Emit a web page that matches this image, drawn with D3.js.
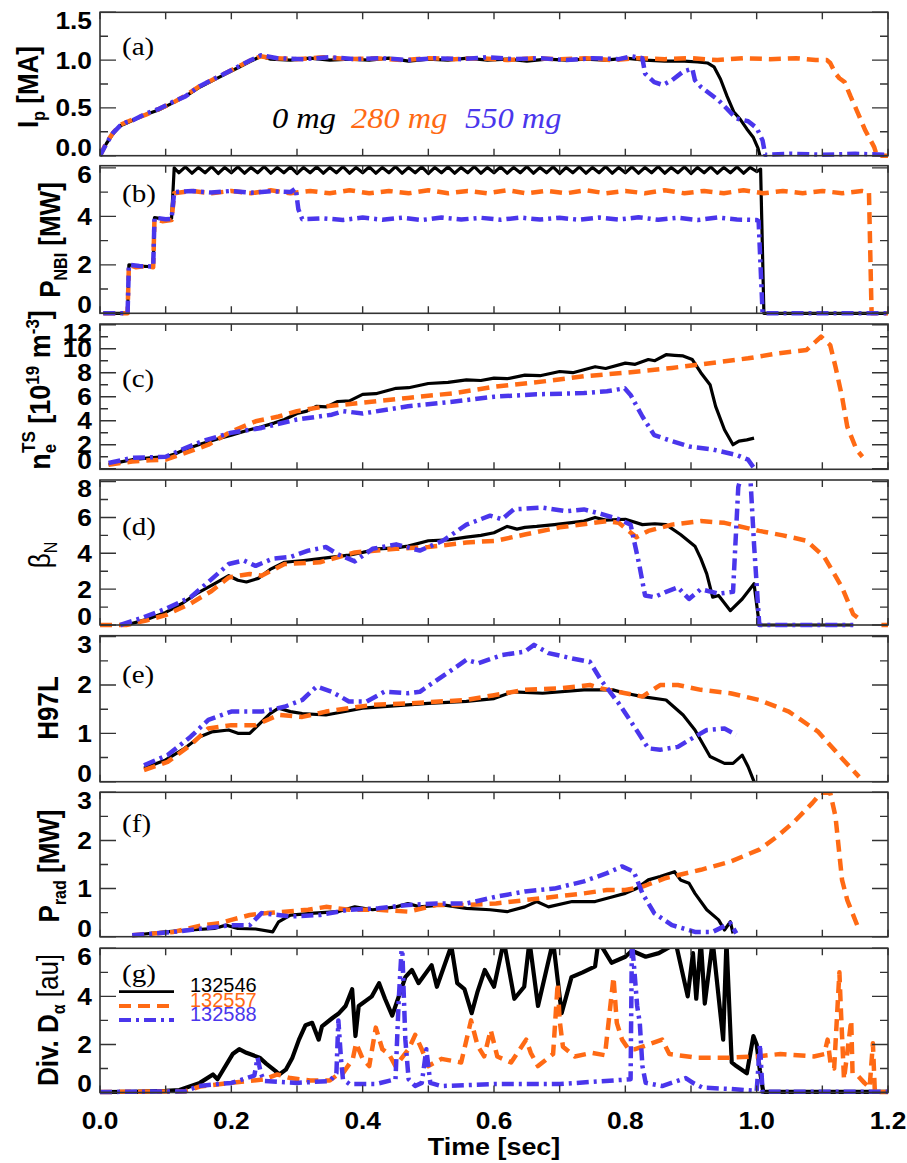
<!DOCTYPE html>
<html lang="en">
  <head>
    <meta charset="UTF-8" />
    <title>Discharge time traces</title>
    <script src="https://d3js.org/d3.v7.min.js"></script>
    <style>
      body { margin: 0; background: #fff; }
    </style>
  </head>
  <body>
    <div id="my_dataviz"></div>
    <script>
// ---- data: [time (s), value] ----
const ipBlack = [[0,0],[0.01,0.13],[0.02,0.23],[0.03,0.31],[0.04,0.34],[0.05,0.37],[0.07,0.43],[0.09,0.48],[0.11,0.55],[0.13,0.62],[0.15,0.71],[0.17,0.78],[0.19,0.85],[0.21,0.92],[0.23,0.99],[0.245,1.04],[0.26,1.01],[0.29,1.0],[0.32,1.02],[0.35,1.0],[0.38,1.01],[0.41,1.0],[0.44,1.02],[0.47,0.99],[0.5,1.01],[0.53,1.0],[0.56,1.02],[0.59,1.0],[0.62,1.01],[0.65,0.99],[0.68,1.01],[0.71,1.0],[0.74,1.01],[0.77,1.0],[0.8,1.02],[0.83,1.0],[0.86,0.99],[0.89,0.99],[0.91,0.98],[0.925,0.97],[0.935,0.93],[0.945,0.8],[0.955,0.62],[0.965,0.46],[0.975,0.38],[0.985,0.28],[0.995,0.19],[1.002,0.08],[1.005,0]];
const ipOrange = [[0,0],[0.01,0.14],[0.02,0.24],[0.03,0.32],[0.04,0.35],[0.05,0.38],[0.07,0.43],[0.09,0.49],[0.11,0.55],[0.13,0.63],[0.15,0.72],[0.17,0.79],[0.19,0.86],[0.21,0.93],[0.23,1.0],[0.245,1.04],[0.26,1.02],[0.3,1.01],[0.34,1.03],[0.38,1.01],[0.42,1.02],[0.46,1.0],[0.5,1.02],[0.54,1.01],[0.58,1.02],[0.62,1.0],[0.66,1.02],[0.7,1.01],[0.74,1.02],[0.78,1.0],[0.82,1.02],[0.86,1.01],[0.9,1.02],[0.94,1.0],[0.98,1.02],[1.02,1.01],[1.06,1.02],[1.09,1.0],[1.107,1.0],[1.112,0.97],[1.12,0.86],[1.126,0.81],[1.134,0.77],[1.143,0.62],[1.152,0.48],[1.165,0.27],[1.179,0.09],[1.183,0],[1.2,0]];
const ipBlue = [[0,0],[0.01,0.13],[0.02,0.24],[0.03,0.31],[0.04,0.35],[0.05,0.37],[0.07,0.44],[0.09,0.49],[0.11,0.56],[0.13,0.62],[0.15,0.72],[0.17,0.79],[0.19,0.86],[0.21,0.93],[0.23,1.0],[0.245,1.05],[0.27,1.02],[0.31,1.01],[0.35,1.03],[0.39,1.01],[0.43,1.02],[0.47,1.0],[0.51,1.02],[0.55,1.01],[0.59,1.03],[0.63,1.01],[0.67,1.02],[0.71,1.0],[0.75,1.02],[0.79,1.01],[0.81,1.04],[0.826,1.02],[0.83,0.86],[0.844,0.77],[0.857,0.74],[0.871,0.79],[0.888,0.88],[0.902,0.91],[0.906,0.79],[0.915,0.72],[0.942,0.58],[0.969,0.39],[0.987,0.36],[1.0,0.29],[1.009,0.16],[1.013,0.01],[1.05,0.02],[1.1,0.01],[1.15,0.02],[1.2,0.01]];

const nbiBlack = [[0.005,0],[0.042,0],[0.044,2.0],[0.06,1.95],[0.081,1.92],[0.083,3.95],[0.1,3.88],[0.109,3.92],[0.113,6.0],[0.12,5.8],[0.13,6.04],[0.14,5.78],[0.15,6.02],[0.16,5.8],[0.17,6.05],[0.18,5.77],[0.19,6.02],[0.2,5.8],[0.21,6.04],[0.22,5.78],[0.23,6.02],[0.24,5.8],[0.25,6.05],[0.26,5.78],[0.27,6.02],[0.28,5.8],[0.29,6.04],[0.3,5.77],[0.31,6.02],[0.32,5.8],[0.33,6.04],[0.34,5.78],[0.35,6.02],[0.36,5.8],[0.37,6.05],[0.38,5.78],[0.39,6.02],[0.4,5.8],[0.41,6.04],[0.42,5.78],[0.43,6.02],[0.44,5.8],[0.45,6.05],[0.46,5.78],[0.47,6.02],[0.48,5.8],[0.49,6.04],[0.5,5.77],[0.51,6.02],[0.52,5.8],[0.53,6.04],[0.54,5.78],[0.55,6.02],[0.56,5.8],[0.57,6.05],[0.58,5.78],[0.59,6.02],[0.6,5.8],[0.61,6.04],[0.62,5.78],[0.63,6.02],[0.64,5.8],[0.65,6.05],[0.66,5.78],[0.67,6.02],[0.68,5.8],[0.69,6.04],[0.7,5.77],[0.71,6.02],[0.72,5.8],[0.73,6.04],[0.74,5.78],[0.75,6.02],[0.76,5.8],[0.77,6.05],[0.78,5.78],[0.79,6.02],[0.8,5.8],[0.81,6.04],[0.82,5.78],[0.83,6.02],[0.84,5.8],[0.85,6.05],[0.86,5.78],[0.87,6.02],[0.88,5.8],[0.89,6.04],[0.9,5.77],[0.91,6.02],[0.92,5.8],[0.93,6.04],[0.94,5.78],[0.95,6.02],[0.96,5.8],[0.97,6.04],[0.98,5.78],[0.99,6.02],[1.0,5.85],[1.006,5.95],[1.011,0],[1.2,0]];
const nbiOrange = [[0.005,0],[0.042,0],[0.044,2.0],[0.055,1.9],[0.07,1.95],[0.081,1.9],[0.083,3.9],[0.095,3.8],[0.109,3.85],[0.113,4.95],[0.14,5.05],[0.17,4.95],[0.2,5.05],[0.23,4.95],[0.26,5.08],[0.29,4.95],[0.32,5.05],[0.35,4.95],[0.38,5.08],[0.41,4.95],[0.44,5.05],[0.47,4.95],[0.5,5.08],[0.53,4.95],[0.56,5.05],[0.59,4.95],[0.62,5.08],[0.65,4.95],[0.68,5.05],[0.71,4.95],[0.74,5.08],[0.77,4.95],[0.8,5.05],[0.83,4.95],[0.86,5.08],[0.89,4.95],[0.92,5.05],[0.95,4.95],[0.98,5.08],[1.01,4.95],[1.04,5.05],[1.07,4.95],[1.1,5.05],[1.13,4.95],[1.16,5.05],[1.171,5.0],[1.175,0],[1.2,0]];
const nbiBlue = [[0.005,0],[0.042,0],[0.044,2.0],[0.06,1.95],[0.081,1.93],[0.083,3.95],[0.1,3.88],[0.109,3.9],[0.113,5.0],[0.14,5.05],[0.17,4.98],[0.2,5.05],[0.23,4.97],[0.26,5.04],[0.29,5.0],[0.298,5.15],[0.302,4.3],[0.308,3.88],[0.34,3.92],[0.37,3.85],[0.4,3.95],[0.43,3.86],[0.46,3.94],[0.49,3.85],[0.52,3.95],[0.55,3.87],[0.58,3.94],[0.61,3.86],[0.64,3.95],[0.67,3.87],[0.7,3.94],[0.73,3.86],[0.76,3.95],[0.79,3.87],[0.82,3.96],[0.85,3.86],[0.88,3.94],[0.91,3.85],[0.94,3.95],[0.97,3.87],[1.0,3.85],[1.003,3.8],[1.009,0],[1.2,0]];

const neBlack = [[0.013,0.33],[0.03,0.55],[0.049,0.75],[0.076,0.9],[0.1,1.0],[0.115,1.25],[0.129,1.6],[0.156,2.1],[0.18,2.5],[0.2,2.8],[0.225,3.2],[0.246,3.5],[0.265,3.8],[0.281,4.1],[0.3,4.6],[0.315,4.8],[0.33,5.2],[0.345,5.15],[0.362,5.6],[0.38,5.65],[0.4,6.2],[0.42,6.25],[0.451,6.7],[0.47,6.75],[0.5,7.1],[0.53,7.2],[0.558,7.4],[0.58,7.35],[0.6,7.55],[0.62,7.5],[0.647,7.8],[0.67,7.75],[0.7,8.1],[0.72,8.0],[0.754,8.5],[0.77,8.35],[0.8,8.8],[0.815,8.7],[0.835,9.1],[0.845,9.0],[0.862,9.5],[0.875,9.45],[0.888,9.4],[0.902,9.1],[0.915,8.0],[0.929,7.0],[0.9375,5.2],[0.951,3.25],[0.964,2.0],[0.973,2.3],[0.985,2.4],[0.996,2.55]];
const neOrange = [[0.013,0.33],[0.049,0.6],[0.076,0.7],[0.1,0.75],[0.129,1.3],[0.165,2.0],[0.2,3.1],[0.237,3.95],[0.272,4.35],[0.3,4.8],[0.344,5.2],[0.4,5.5],[0.469,5.9],[0.54,6.3],[0.603,6.85],[0.679,7.3],[0.737,7.7],[0.8,8.0],[0.871,8.4],[0.915,8.7],[0.987,9.2],[1.031,9.6],[1.076,9.9],[1.098,11.0],[1.112,10.3],[1.12,8.5],[1.13,6.0],[1.138,3.5],[1.152,1.6],[1.161,1.0]];
const neBlue = [[0.013,0.47],[0.049,0.9],[0.1,1.0],[0.129,1.7],[0.156,2.3],[0.2,3.0],[0.246,3.4],[0.3,4.1],[0.353,4.5],[0.37,4.8],[0.4,4.6],[0.469,5.2],[0.54,5.6],[0.6,6.0],[0.665,6.2],[0.737,6.3],[0.772,6.45],[0.799,6.7],[0.808,6.15],[0.826,4.35],[0.844,2.8],[0.871,2.3],[0.897,1.85],[0.933,1.6],[0.969,1.15],[0.987,0.75],[0.996,0.05]];

const betaBlack = [[0.04,0],[0.07,0.3],[0.1,0.7],[0.125,1.2],[0.147,1.75],[0.174,2.3],[0.196,2.75],[0.21,2.5],[0.223,2.4],[0.241,2.6],[0.259,3.1],[0.281,3.5],[0.31,3.6],[0.335,3.7],[0.379,3.9],[0.4,4.05],[0.424,4.25],[0.45,4.3],[0.469,4.4],[0.5,4.7],[0.53,4.75],[0.558,4.9],[0.58,5.0],[0.6,5.15],[0.62,5.5],[0.635,5.35],[0.647,5.45],[0.665,5.5],[0.692,5.6],[0.715,5.7],[0.737,5.8],[0.754,6.0],[0.77,5.85],[0.8,5.9],[0.826,5.6],[0.845,5.65],[0.862,5.6],[0.884,5.05],[0.906,4.4],[0.915,3.7],[0.924,2.85],[0.933,1.55],[0.942,1.65],[0.96,0.8],[0.978,1.45],[0.996,2.3],[1.004,0],[1.147,0]];
const betaOrange = [[0,0],[0.04,0],[0.07,0.25],[0.1,0.55],[0.138,1.2],[0.17,1.9],[0.196,2.65],[0.228,2.85],[0.246,2.75],[0.281,3.4],[0.335,3.5],[0.388,4.05],[0.451,4.25],[0.5,4.35],[0.558,4.6],[0.603,4.7],[0.647,5.05],[0.7,5.45],[0.772,5.8],[0.79,5.7],[0.817,4.9],[0.835,5.25],[0.871,5.6],[0.915,5.8],[0.951,5.7],[1.004,5.25],[1.04,5.0],[1.076,4.7],[1.103,3.8],[1.13,2.1],[1.147,0.6],[1.156,0.35]];
const betaOrangeEnd = [[1.19,0],[1.2,0]];
const betaBlue = [[0.031,0],[0.06,0.35],[0.1,0.9],[0.138,1.55],[0.165,2.4],[0.196,3.4],[0.219,3.6],[0.237,3.3],[0.263,3.7],[0.29,3.8],[0.317,4.15],[0.344,4.35],[0.362,3.95],[0.388,3.55],[0.415,4.25],[0.451,4.5],[0.487,4.15],[0.522,4.7],[0.558,5.6],[0.594,6.1],[0.612,5.9],[0.63,6.45],[0.674,6.55],[0.71,6.35],[0.737,6.45],[0.763,6.2],[0.79,5.9],[0.808,5.6],[0.821,3.4],[0.83,1.65],[0.844,1.55],[0.862,1.85],[0.88,2.1],[0.897,1.45],[0.915,2.0],[0.942,1.75],[0.964,1.85],[0.972,7.7],[0.978,8.5],[0.99,8.5],[0.996,4.5],[1.004,0],[1.147,0]];

const h97Black = [[0.067,0.28],[0.1,0.45],[0.129,0.69],[0.152,0.93],[0.17,1.03],[0.196,1.07],[0.21,1.0],[0.228,1.0],[0.259,1.41],[0.272,1.52],[0.29,1.45],[0.308,1.41],[0.344,1.38],[0.4,1.52],[0.469,1.59],[0.5,1.62],[0.558,1.66],[0.6,1.72],[0.629,1.86],[0.674,1.83],[0.737,1.9],[0.781,1.9],[0.8,1.83],[0.826,1.76],[0.862,1.69],[0.888,1.38],[0.906,1.07],[0.929,0.52],[0.951,0.38],[0.964,0.38],[0.978,0.55],[0.987,0.31],[0.996,0]];
const h97Orange = [[0.067,0.24],[0.103,0.41],[0.138,0.76],[0.165,1.1],[0.2,1.17],[0.237,1.17],[0.272,1.38],[0.308,1.34],[0.344,1.45],[0.415,1.59],[0.469,1.62],[0.558,1.69],[0.6,1.79],[0.647,1.9],[0.7,1.93],[0.746,2.0],[0.763,1.93],[0.8,1.83],[0.826,1.76],[0.853,2.0],[0.88,2.0],[0.915,1.9],[0.96,1.83],[1.004,1.69],[1.049,1.45],[1.094,1.03],[1.13,0.48],[1.156,0.1]];
const h97Blue = [[0.067,0.34],[0.103,0.55],[0.138,0.93],[0.165,1.28],[0.2,1.45],[0.246,1.45],[0.281,1.55],[0.308,1.69],[0.33,1.97],[0.353,1.86],[0.379,1.66],[0.406,1.66],[0.433,1.86],[0.469,1.83],[0.487,1.86],[0.513,2.1],[0.558,2.52],[0.576,2.45],[0.612,2.62],[0.647,2.69],[0.661,2.83],[0.683,2.66],[0.719,2.55],[0.746,2.48],[0.763,2.1],[0.79,1.62],[0.817,1.07],[0.835,0.69],[0.853,0.66],[0.88,0.72],[0.897,0.86],[0.924,1.07],[0.951,1.1],[0.969,0.97]];

const pradBlack = [[0.049,0.03],[0.1,0.1],[0.138,0.14],[0.174,0.17],[0.192,0.24],[0.21,0.17],[0.237,0.16],[0.263,0.1],[0.272,0.31],[0.29,0.45],[0.326,0.49],[0.362,0.52],[0.388,0.62],[0.415,0.56],[0.451,0.62],[0.469,0.69],[0.487,0.62],[0.522,0.66],[0.558,0.59],[0.594,0.56],[0.62,0.52],[0.647,0.62],[0.665,0.73],[0.683,0.62],[0.719,0.73],[0.754,0.73],[0.781,0.83],[0.8,0.9],[0.817,1.0],[0.835,1.18],[0.853,1.25],[0.875,1.35],[0.884,1.18],[0.897,1.11],[0.906,0.9],[0.924,0.56],[0.942,0.35],[0.951,0.14],[0.96,0.31],[0.964,0.07]];
const pradOrange = [[0.049,0.03],[0.112,0.1],[0.156,0.24],[0.183,0.28],[0.2,0.35],[0.228,0.45],[0.254,0.49],[0.317,0.56],[0.344,0.62],[0.379,0.56],[0.424,0.56],[0.469,0.52],[0.513,0.66],[0.558,0.66],[0.603,0.69],[0.647,0.76],[0.692,0.83],[0.737,0.9],[0.772,0.97],[0.8,0.97],[0.826,1.04],[0.862,1.22],[0.915,1.39],[0.96,1.56],[1.004,1.81],[1.031,2.08],[1.058,2.4],[1.085,2.78],[1.098,2.99],[1.112,2.99],[1.12,2.5],[1.13,1.18],[1.138,0.76],[1.156,0.14]];
const pradBlue = [[0.049,0.03],[0.112,0.1],[0.156,0.17],[0.2,0.24],[0.228,0.24],[0.246,0.49],[0.29,0.42],[0.335,0.45],[0.379,0.56],[0.424,0.59],[0.469,0.66],[0.513,0.69],[0.558,0.69],[0.603,0.83],[0.647,0.94],[0.692,1.0],[0.737,1.15],[0.772,1.32],[0.795,1.46],[0.813,1.35],[0.826,0.9],[0.844,0.49],[0.871,0.24],[0.906,0.1],[0.933,0.1],[0.96,0.28],[0.969,0.07]];

const daBlack = [[0,0.02],[0.05,0.03],[0.1,0.07],[0.121,0.1],[0.152,0.4],[0.172,0.75],[0.179,0.55],[0.202,1.6],[0.212,1.8],[0.223,1.65],[0.243,1.45],[0.253,1.2],[0.267,0.9],[0.273,0.75],[0.283,0.95],[0.293,1.45],[0.303,2.2],[0.313,2.8],[0.323,2.9],[0.333,2.2],[0.338,2.75],[0.354,3.1],[0.364,3.3],[0.374,3.6],[0.384,4.3],[0.389,2.35],[0.394,3.6],[0.414,4.0],[0.425,4.55],[0.434,3.9],[0.445,3.2],[0.455,4.0],[0.465,4.8],[0.475,5.1],[0.485,4.55],[0.505,5.3],[0.513,4.4],[0.535,6.1],[0.544,4.55],[0.555,4.3],[0.566,3.3],[0.575,4.2],[0.586,5.1],[0.6,4.4],[0.615,6.3],[0.631,3.9],[0.646,4.4],[0.654,6.3],[0.667,3.6],[0.69,6.3],[0.703,3.3],[0.718,4.8],[0.735,5.0],[0.754,5.25],[0.759,6.3],[0.779,5.4],[0.8,5.65],[0.81,5.9],[0.831,5.65],[0.851,5.8],[0.877,6.2],[0.895,4.0],[0.903,5.8],[0.908,3.9],[0.915,6.3],[0.921,3.7],[0.933,6.3],[0.949,2.2],[0.954,6.3],[0.962,1.25],[0.969,1.1],[0.985,0.8],[0.995,2.35],[1.0,2.0],[1.005,0.9],[1.01,0.03],[1.2,0.03]];
const daOrange = [[0,0.02],[0.13,0.05],[0.152,0.25],[0.2,0.4],[0.25,0.55],[0.27,0.75],[0.29,0.6],[0.32,0.5],[0.35,0.5],[0.36,0.7],[0.37,0.8],[0.385,1.4],[0.39,2.05],[0.4,1.4],[0.41,1.1],[0.42,2.7],[0.43,1.8],[0.44,1.6],[0.45,1.1],[0.47,1.8],[0.48,2.4],[0.49,1.8],[0.5,1.1],[0.52,1.4],[0.55,1.25],[0.565,3.0],[0.575,1.95],[0.585,1.5],[0.595,2.6],[0.605,1.5],[0.626,1.25],[0.649,2.2],[0.656,1.65],[0.667,1.1],[0.69,1.6],[0.697,4.55],[0.7,3.0],[0.705,1.9],[0.723,1.5],[0.749,1.65],[0.769,1.55],[0.782,4.8],[0.787,2.9],[0.795,2.2],[0.805,1.8],[0.815,1.8],[0.856,2.2],[0.867,1.6],[0.908,1.45],[0.959,1.45],[1.0,1.5],[1.036,1.6],[1.087,1.5],[1.103,1.6],[1.108,2.2],[1.113,1.1],[1.118,1.0],[1.126,5.0],[1.128,3.6],[1.133,0.55],[1.144,3.0],[1.146,0.8],[1.154,0.7],[1.164,0.4],[1.172,0.2],[1.177,2.05],[1.18,0.02],[1.2,0.02]];
const daBlue = [[0,0.02],[0.13,0.05],[0.15,0.27],[0.2,0.4],[0.235,0.7],[0.24,1.45],[0.245,0.8],[0.25,0.48],[0.3,0.4],[0.35,0.48],[0.36,0.8],[0.363,3.0],[0.367,1.4],[0.37,0.55],[0.38,0.35],[0.42,0.35],[0.45,0.55],[0.455,3.9],[0.46,6.3],[0.462,4.55],[0.465,2.2],[0.47,0.55],[0.48,0.27],[0.49,0.4],[0.497,1.8],[0.503,0.4],[0.52,0.27],[0.6,0.35],[0.7,0.35],[0.808,0.55],[0.81,6.3],[0.814,5.0],[0.818,3.6],[0.822,2.9],[0.826,1.1],[0.831,0.4],[0.856,0.27],[0.892,0.6],[0.903,0.4],[0.918,0.2],[0.959,0.15],[1.0,0.07],[1.005,2.0],[1.009,0.03],[1.2,0.03]];

const shotLabels = ['132546', '132557', '132588'];
const massLabels = ['0 mg', '280 mg', '550 mg'];
const timeTicks = [0, 0.2, 0.4, 0.6, 0.8, 1.0, 1.2];

// ---- layout ----
const W = 907, H = 1163;
const X0 = 100, X1 = 888;
const colors = ['#000000', '#ff6a14', '#4a36ec'];
const widths = [3.2, 4.5, 4.5];
const dashes = [null, '12,7', '12,5,3,5'];
const STRETCH = 1.12;
const serif = '"Liberation Serif", "Times New Roman", "DejaVu Serif", serif';

// each panel lists [data, style index] pairs; style 0 black, 1 orange, 2 blue
const panels = [
  { tag: '(a)', top: 12.3, bottom: 155.7, domain: [0, 1.5], major: 0.5, fmt: d3.format('.1f'),
    series: [[ipBlack, 0], [ipOrange, 1], [ipBlue, 2]], tagY: 55,
    title: [{ t: 'I' }, { t: 'p', size: 16, dy: 6 }, { t: ' [MA]', dy: -6 }], titleX: 38, titleY: 87 },
  { tag: '(b)', top: 165.7, bottom: 313.3, domain: [0, 6.09], major: 2, fmt: d3.format('d'),
    series: [[nbiBlack, 0], [nbiOrange, 1], [nbiBlue, 2]], tagY: 202,
    title: [{ t: 'P' }, { t: 'NBI', size: 16, dy: 6 }, { t: ' [MW]', dy: -6 }], titleX: 60, titleY: 240 },
  { tag: '(c)', top: 324, bottom: 469.3, domain: [-0.05, 12.06], major: 2, fmt: d3.format('d'),
    series: [[neBlack, 0], [neOrange, 1], [neBlue, 2]], tagY: 387,
    title: [{ t: 'n' }, { t: 'e', size: 17, dy: 5 }, { t: 'TS', size: 17, dy: -18, dx: -9 }, { t: ' [10', dy: 13 }, { t: '19', size: 17, dy: -10 }, { t: ' m', dy: 10 }, { t: '-3', size: 17, dy: -10 }, { t: ']', dy: 10 }],
    titleX: 50, titleY: 390, size: 27 },
  { tag: '(d)', top: 480, bottom: 625, domain: [0, 8.09], major: 2, fmt: d3.format('d'),
    series: [[betaBlack, 0], [betaOrange, 1], [betaOrangeEnd, 1], [betaBlue, 2]], tagY: 535,
    title: [{ t: 'β', weight: 'normal' }, { t: 'N', size: 16, dy: 6, weight: 'normal' }], titleX: 50, titleY: 555 },
  { tag: '(e)', top: 635.7, bottom: 781.7, domain: [0, 3.02], major: 1, fmt: d3.format('d'),
    series: [[h97Black, 0], [h97Orange, 1], [h97Blue, 2]], tagY: 683,
    title: [{ t: 'H97L' }], titleX: 58, titleY: 708 },
  { tag: '(f)', top: 792.3, bottom: 936.7, domain: [0, 3.0], major: 1, fmt: d3.format('d'),
    series: [[pradBlack, 0], [pradOrange, 1], [pradBlue, 2]], tagY: 832,
    title: [{ t: 'P' }, { t: 'rad', size: 16, dy: 6 }, { t: ' [MW]', dy: -6 }], titleX: 59, titleY: 866 },
  { tag: '(g)', top: 948.3, bottom: 1092.5, domain: [0, 6.0], major: 2, fmt: d3.format('d'),
    series: [[daBlack, 0], [daOrange, 1], [daBlue, 2]], tagY: 982,
    title: [{ t: 'Div. D' }, { t: 'α', size: 16, dy: 6 }, { t: ' [au]', dy: -6, weight: 'normal' }], titleX: 58, titleY: 1020, blackWidth: 4.2 }
];

const svg = d3.select('#my_dataviz')
  .append('svg')
    .attr('width', W)
    .attr('height', H)
    .style('font-family', '"Liberation Sans", Arial, sans-serif');

const defs = svg.append('defs');
const x = d3.scaleLinear().domain([0, 1.2]).range([X0, X1]);
const xMinor = d3.range(0, 1.2001, 0.1);

panels.forEach((p, i) => {
  const y = d3.scaleLinear().domain(p.domain).range([p.bottom, p.top]);
  const g = svg.append('g');

  defs.append('clipPath').attr('id', 'clip' + i)
    .append('rect')
      .attr('x', X0)
      .attr('y', p.top)
      .attr('width', X1 - X0)
      .attr('height', p.bottom - p.top + 4);

  // curves
  const line = d3.line().x(d => x(d[0])).y(d => y(d[1]));
  const lines = g.append('g').attr('clip-path', `url(#clip${i})`);
  p.series.forEach(([s, k]) => {
    lines.append('path')
      .datum(s)
      .attr('d', line)
      .attr('fill', 'none')
      .attr('stroke', colors[k])
      .attr('stroke-width', k === 0 && p.blackWidth ? p.blackWidth : widths[k])
      .attr('stroke-linejoin', 'round')
      .attr('stroke-dasharray', dashes[k]);
  });

  // frame
  g.append('rect')
    .attr('x', X0).attr('y', p.top)
    .attr('width', X1 - X0).attr('height', p.bottom - p.top)
    .attr('fill', 'none')
    .attr('stroke', '#333')
    .attr('stroke-width', 1.6);

  // y ticks, both sides, major + minor
  const majors = d3.range(Math.ceil(p.domain[0] / p.major) * p.major, p.domain[1] + 1e-6, p.major);
  const minors = d3.range(Math.ceil(p.domain[0] / p.major) * p.major + p.major / 2, p.domain[1], p.major);
  const ticks = majors.map(v => ({ v, len: 16 })).concat(minors.map(v => ({ v, len: 8 })));
  g.selectAll('.yt')
    .data(ticks)
    .enter()
    .append('path')
      .attr('d', d => `M${X0},${y(d.v)}h${d.len}M${X1},${y(d.v)}h${-d.len}`)
      .attr('stroke', '#333')
      .attr('stroke-width', 1.4);

  // x ticks top & bottom
  g.selectAll('.xt')
    .data(xMinor)
    .enter()
    .append('path')
      .attr('d', d => `M${x(d)},${p.top}v7M${x(d)},${p.bottom}v-7`)
      .attr('stroke', '#333')
      .attr('stroke-width', 1.4);

  // y tick labels, kept inside the panel height
  g.selectAll('.yl')
    .data(majors)
    .enter()
    .append('text')
      .attr('transform', d => {
        const yy = Math.max(p.top + 8.5, Math.min(p.bottom - 8.5, y(d)));
        return `translate(92,${yy}) scale(${STRETCH},1)`;
      })
      .attr('dy', '0.36em')
      .attr('text-anchor', 'end')
      .attr('font-size', 23.5)
      .attr('font-weight', 'bold')
      .text(d => p.fmt(d));

  // panel tag
  g.append('text')
    .attr('transform', `translate(122,${p.tagY}) scale(${STRETCH},1)`)
    .attr('font-family', serif)
    .attr('font-size', 26)
    .text(p.tag);

  // axis title
  const size = p.size || 26;
  const title = g.append('text')
    .attr('transform', `translate(${p.titleX},${p.titleY}) scale(${STRETCH},1) rotate(-90)`)
    .attr('text-anchor', 'middle')
    .attr('font-size', size)
    .attr('font-weight', 'bold');
  p.title.forEach(part => {
    title.append('tspan')
      .attr('font-size', part.size || size)
      .attr('font-weight', part.weight || 'bold')
      .attr('dy', part.dy || 0)
      .attr('dx', part.dx || 0)
      .text(part.t);
  });
});

// legend in (a): injected mass
const massX = [272, 351, 465];
svg.selectAll('.mass')
  .data(massLabels)
  .enter()
  .append('text')
    .attr('transform', (d, i) => `translate(${massX[i]},128) scale(${STRETCH},1)`)
    .attr('font-family', serif)
    .attr('font-style', 'italic')
    .attr('font-size', 29)
    .attr('fill', (d, i) => colors[i])
    .text(d => d);

// legend in (g): shot numbers
const legY = [991.7, 1006, 1020];
const leg = svg.append('g');
shotLabels.forEach((s, i) => {
  leg.append('line')
    .attr('x1', 119).attr('x2', 174)
    .attr('y1', legY[i]).attr('y2', legY[i])
    .attr('stroke', colors[i])
    .attr('stroke-width', widths[i] - 0.5)
    .attr('stroke-dasharray', dashes[i]);
  leg.append('text')
    .attr('x', 190)
    .attr('y', legY[i] + 0.5)
    .attr('font-size', 20)
    .attr('fill', colors[i])
    .text(s);
});

// x axis labels
svg.selectAll('.xl')
  .data(timeTicks)
  .enter()
  .append('text')
    .attr('transform', d => `translate(${x(d)},1128.5) scale(${STRETCH},1)`)
    .attr('text-anchor', 'middle')
    .attr('font-size', 23.5)
    .attr('font-weight', 'bold')
    .text(d => d3.format('.1f')(d));

svg.append('text')
  .attr('transform', `translate(${(X0 + X1) / 2},1155) scale(${STRETCH},1)`)
  .attr('text-anchor', 'middle')
  .attr('font-size', 24)
  .attr('font-weight', 'bold')
  .text('Time [sec]');
    </script>
  </body>
</html>
